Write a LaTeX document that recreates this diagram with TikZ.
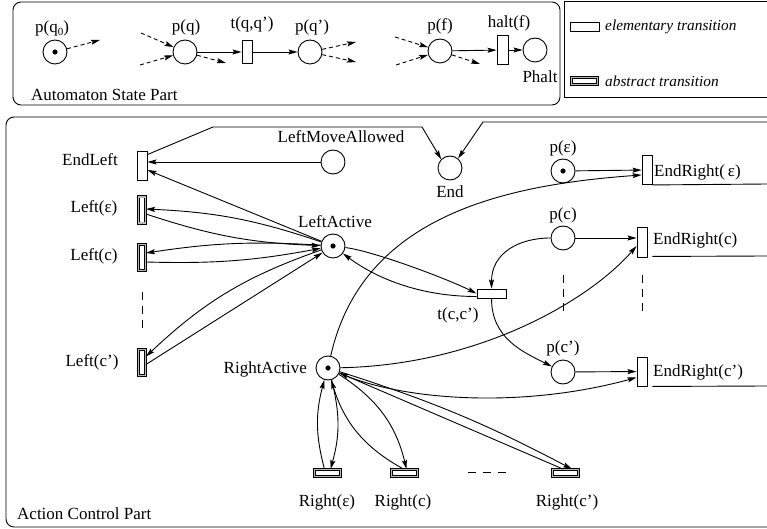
\documentclass[tikz,border=0pt]{standalone}
\usepackage{fontspec}
\setmainfont{Liberation Serif}
\usetikzlibrary{arrows.meta,calc}
\begin{document}
\begin{tikzpicture}[x=1pt,y=-1pt,
  every node/.style={font=\fontsize{17}{20}\selectfont, inner sep=0pt},
  plain/.style={line width=0.9pt},
  place/.style={circle, draw, line width=0.9pt, minimum size=24pt, inner sep=0pt, fill=white},
  tokplace/.style={place},
  tokdot/.style={fill=black},
  vtr/.style={rectangle, draw, line width=0.9pt, fill=white, minimum width=10pt, minimum height=29pt},
  htr/.style={rectangle, draw, line width=0.9pt, fill=white, minimum width=29pt, minimum height=9pt},
  vab/.style={rectangle, draw, line width=0.7pt, double=gray!55, double distance=1.4pt, minimum width=7.2pt, minimum height=26.2pt},
  hab/.style={rectangle, draw, line width=0.7pt, double=gray!55, double distance=1.4pt, minimum width=26.2pt, minimum height=7.2pt},
  arr/.style={line width=0.9pt, -{Stealth[length=9pt,width=5pt,inset=1.5pt]}},
  dasharr/.style={arr, dash pattern=on 4pt off 3pt},
  legtext/.style={anchor=west, font=\fontsize{15.3}{18}\selectfont\itshape}
]
\useasboundingbox (0,0) rectangle (767,529);
\begin{scope}
  \clip (0,0) rectangle (767,529);
  \draw[plain, rounded corners=8pt] (13,2) rectangle (560,105);
  \draw[plain] (564,1) rectangle (790,97);
  \draw[plain, rounded corners=8pt] (6,117) rectangle (790,527);
\end{scope}

% ---------- Automaton state part ----------
\node[tokplace] (pq0) at (55,52) {};
\fill[tokdot] (pq0.center) circle (2.6pt);
\node (lpq0) at (52,28) {p(q\raisebox{-0.45ex}{\fontsize{11}{12}\selectfont 0})};
\coordinate (d1) at (100,40);
\draw[dasharr] (pq0) -- (d1);

\node[place] (pq) at (185,52) {};
\node (lpq) at (186,27) {p(q)};
\coordinate (d2) at (141,33);
\coordinate (d3) at (140,65);
\coordinate (d4) at (226,63);
\draw[dasharr] (d2) -- (pq);
\draw[dasharr] (d3) -- (pq);
\draw[dasharr] (pq) -- (d4);

\node[vtr, minimum height=23pt] (tqq) at (247,52) {};
\node (ltqq) at (252,24) {t(q,q')};
\node[place] (pqp) at (310,52) {};
\node (lpqp) at (312,27) {p(q')};
\draw[arr] (pq) -- (tqq);
\draw[arr] (tqq) -- (pqp);
\coordinate (d5) at (356,42);
\coordinate (d6) at (356,62);
\draw[dasharr] (pqp) -- (d5);
\draw[dasharr] (pqp) -- (d6);

\node[place] (pf) at (440,51) {};
\node (lpf) at (440,26) {p(f)};
\coordinate (d7) at (395,37);
\coordinate (d8) at (396,65);
\coordinate (d9) at (480,64);
\draw[dasharr] (d7) -- (pf);
\draw[dasharr] (d8) -- (pf);
\draw[dasharr] (pf) -- (d9);
\node[vtr, minimum width=11pt] (halt) at (502.5,50) {};
\node (lhalt) at (509,23) {halt(f)};
\node[place] (phalt) at (535,50) {};
\node (lphalt) at (540,77) {Phalt};
\draw[arr] (pf) -- (halt);
\draw[arr] (halt) -- (phalt);
\node[anchor=west] (lasp) at (31,95) {Automaton State Part};

% ---------- legend ----------
\node[htr] (lege) at (584.5,27) {};
\node[legtext] (legetxt) at (605,27) {elementary transition};
\node[hab] (lega) at (584.5,81) {};
\node[legtext] (legatxt) at (605,81) {abstract transition};

% ---------- Action control part ----------
\node[vtr] (endleft) at (142,165.5) {};
\node (lendleft) at (90,160) {EndLeft};
\node[vab] (leps) at (142,210) {};
\node (lleps) at (94,208) {Left(ε)};
\node[vab] (lc) at (142,257.5) {};
\node (llc) at (94,256) {Left(c)};
\node[vab] (lcp) at (142,362.5) {};
\node (llcp) at (92,362) {Left(c')};
\coordinate (dl1) at (142,292);
\coordinate (dl2) at (142,331);
\draw[plain, dash pattern=on 8pt off 6pt] (dl1) -- (dl2);

\node[place] (lma) at (333,162) {};
\node (llma) at (341,137) {LeftMoveAllowed};
\node[place] (end) at (450,168) {};
\node (lend) at (450,192) {End};
\node[tokplace] (la) at (333,246) {};
\fill[tokdot] (la.center) circle (2.6pt);
\node (lla) at (335,222) {LeftActive};
\node[tokplace] (ra) at (328,368) {};
\fill[tokdot] (ra.center) circle (2.6pt);
\node[anchor=east] (lra) at (307,369) {RightActive};
\node[htr] (tcc) at (491.5,293.5) {};
\node (ltcc) at (458,315) {t(c,c')};

\node[tokplace] (peps) at (563,171) {};
\fill[tokdot] (peps.center) circle (2.6pt);
\node (lpeps) at (563,148) {p(ε)};
\node[vtr] (ereps) at (647,170) {};
\node[anchor=west] (lereps) at (654,172) {EndRight(\,ε)};
\node[place] (pc) at (563,238) {};
\node (lpc) at (563,215) {p(c)};
\node[vtr, minimum height=30pt] (erc) at (642,242) {};
\node[anchor=west] (lerc) at (653,240) {EndRight(c)};
\node[place] (pcp) at (563,372) {};
\node (lpcp) at (563,348) {p(c')};
\node[vtr] (ercp) at (642,371.5) {};
\node[anchor=west] (lercp) at (653,372) {EndRight(c')};

\coordinate (dv1a) at (563,275); \coordinate (dv1b) at (563,313);
\coordinate (dv2a) at (642,275); \coordinate (dv2b) at (642,312);
\draw[plain, dash pattern=on 8pt off 6pt] (dv1a) -- (dv1b);
\draw[plain, dash pattern=on 8pt off 6pt] (dv2a) -- (dv2b);

\node[hab] (reps) at (327.5,473) {};
\node (lreps) at (327,502) {Right(ε)};
\node[hab] (rc) at (404.5,473) {};
\node (lrc) at (403,502) {Right(c)};
\node[hab] (rcp) at (565.5,473) {};
\node (lrcp) at (567,502) {Right(c')};
\coordinate (dh1) at (468,472); \coordinate (dh2) at (508,472);
\draw[plain, dash pattern=on 8pt off 7pt] (dh1) -- (dh2);

\node[anchor=west] (lacp) at (17,514) {Action Control Part};

% EndLeft connectors
\draw[arr] (lma) -- (lma -| endleft.east);
\draw[arr] (la) -- ($(endleft.east)+(0,4.5)$);
\coordinate (w1) at (213,127);
\coordinate (w2) at (422,127);
\draw[arr] ($(endleft.north east)+(0,4)$) -- (w1) -- (w2) -- (end.135);
\coordinate (w3) at (767,122);
\coordinate (w4) at (483,122);
\draw[arr] (w3) -- (w4) -- (end.50);

% EndRight outgoing lines
\coordinate (e1) at (767,184);
\coordinate (e2) at (767,256);
\coordinate (e3) at (767,386);
\draw[plain] (ereps.south east) -- (e1);
\draw[plain] ($(erc.south east)+(5,-1)$) -- (e2);
\draw[plain] ($(ercp.south east)+(5,0)$) -- (e3);

% LeftActive <-> Left transitions
\draw[arr] (la) to[bend right=8] ($(leps.east)+(0,-1)$);
\draw[arr] ($(leps.east)+(0,4)$) to[bend right=8] (la);
\draw[arr] (la) to[bend right=6] ($(lc.east)+(0,-4.5)$);
\draw[arr] ($(lc.east)+(0,4.5)$) to[bend right=6] (la);
\draw[arr] (la) to[bend right=12] ($(lcp.east)+(0,-6)$);
\draw[arr] ($(lcp.east)+(0,2)$) -- (la);

% t(c,c')
\draw[arr] (la) .. controls +(40,5) and +(-30,-15) .. (tcc.west);
\draw[arr] ($(tcc.west)+(0,3)$) .. controls +(-60,0) and +(40,30) .. (la);
\draw[arr] (pc) .. controls +(-45,0) and +(0,-35) .. (tcc.north);
\draw[arr] (tcc.south) .. controls +(0,40) and +(-40,-20) .. (pcp);

% places to EndRight
\draw[arr] (peps) -- (ereps);
\draw[arr] (pc) -- (pc -| erc.west);
\draw[arr] (pcp) -- (ercp);

% RightActive connectors
\draw[arr] (ra) .. controls +(34,-151) and +(-140,10) .. ($(ereps.west)+(0,5)$);
\draw[arr] (ra) .. controls +(152,-3) and +(-47,54) .. ($(erc.west)+(0,4)$);
\draw[arr] (ra) .. controls +(72,32) and +(-117,32) .. ($(ercp.west)+(0,6)$);
\draw[arr] (ra) to[bend left=5] ($(rcp.north)+(6.5,0)$);
\draw[arr] ($(rcp.north)+(-2.5,0)$) -- (ra);
\draw[arr] ($(reps.north)+(-3,0)$) to[bend left=15] (ra);
\draw[arr] (ra) to[bend left=15] ($(reps.north)+(3,0)$);
\draw[arr] ($(rc.north)+(-1,0)$) to[bend left=22] (ra);
\draw[arr] (ra) to[bend left=22] ($(rc.north)+(2,0)$);
\end{tikzpicture}
\end{document}
